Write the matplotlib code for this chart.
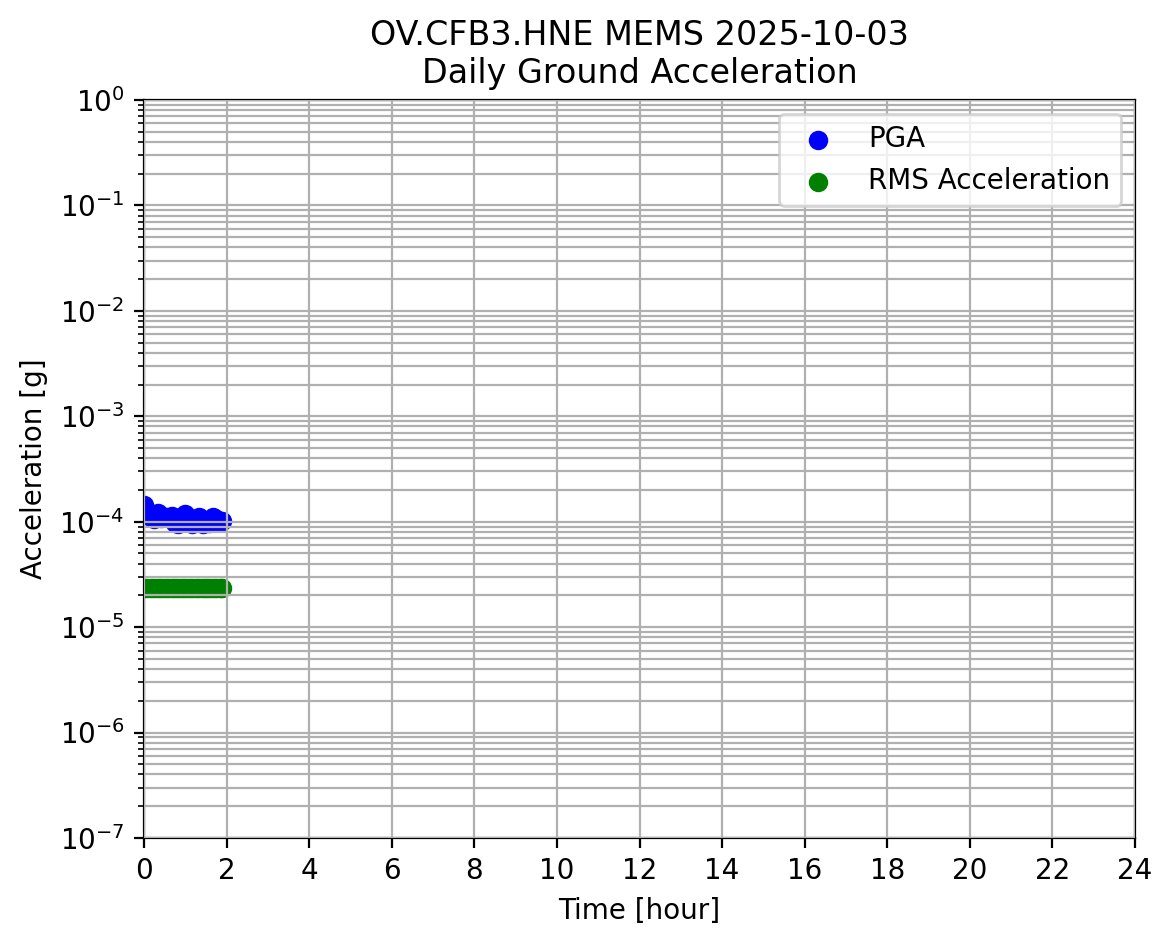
import matplotlib
matplotlib.use("Agg")
import matplotlib.pyplot as plt

hours = [0, 0.083, 0.167, 0.25, 0.333, 0.417, 0.5, 0.583, 0.667, 0.75, 0.833, 0.917,
         1.0, 1.083, 1.167, 1.25, 1.333, 1.417, 1.5, 1.583, 1.667, 1.75, 1.833, 1.9]
pga = [1.45e-4, 1.25e-4, 1.10e-4, 1.05e-4, 1.20e-4, 1.08e-4, 1.10e-4, 1.12e-4, 1.13e-4,
       0.97e-4, 0.95e-4, 1.10e-4, 1.18e-4, 1.05e-4, 0.95e-4, 1.00e-4, 1.10e-4, 0.96e-4,
       1.02e-4, 0.97e-4, 1.10e-4, 1.05e-4, 1.00e-4, 1.02e-4]
rms = [2.36e-5, 2.35e-5, 2.34e-5, 2.35e-5, 2.36e-5, 2.34e-5, 2.35e-5, 2.35e-5, 2.34e-5,
       2.35e-5, 2.36e-5, 2.35e-5, 2.34e-5, 2.35e-5, 2.35e-5, 2.36e-5, 2.34e-5, 2.35e-5,
       2.35e-5, 2.34e-5, 2.35e-5, 2.36e-5, 2.35e-5, 2.35e-5]
xticks = list(range(0, 25, 2))

fig = plt.figure(figsize=(5.865, 4.73), dpi=200)
ax = fig.add_axes([0.1228, 0.1142, 0.8448, 0.7801])
ax.scatter(hours, pga, color="blue", label="PGA")
ax.scatter(hours, rms, color="green", label="RMS Acceleration")
ax.set_yscale("log")
ax.set_ylim(1e-7, 1)
ax.set_xlim(0, 24)
ax.set_xticks(xticks)
ax.grid(True, which="both")
ax.set_axisbelow(False)
ax.set_xlabel("Time [hour]")
ax.set_ylabel("Acceleration [g]")
ax.set_title("OV.CFB3.HNE MEMS 2025-10-03\nDaily Ground Acceleration")
ax.legend(loc="upper right")
fig.savefig("out.png", dpi=200)
